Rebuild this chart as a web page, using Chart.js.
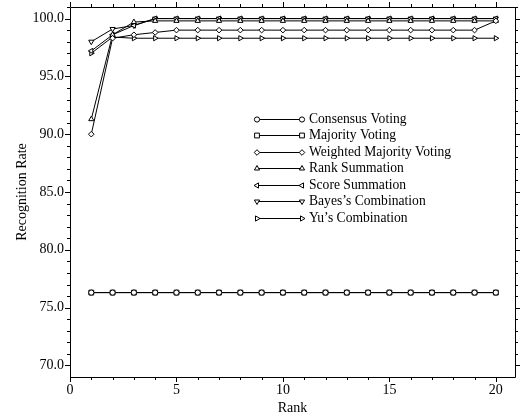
<!DOCTYPE html>
<html>
<head>
<meta charset="utf-8">
<script src="https://cdn.jsdelivr.net/npm/chart.js@4/dist/chart.umd.min.js"></script>
<style>
  html, body { margin: 0; padding: 0; background: #fff; }
  #wrap { width: 520px; height: 419px; }
</style>
</head>
<body>
<div id="wrap"><canvas id="myChart" width="520" height="419"></canvas></div>
<script>
// data
const ranks = [1, 2, 3, 4, 5, 6, 7, 8, 9, 10, 11, 12, 13, 14, 15, 16, 17, 18, 19, 20];
const consensusVoting = [76.3, 76.3, 76.3, 76.3, 76.3, 76.3, 76.3, 76.3, 76.3, 76.3, 76.3, 76.3, 76.3, 76.3, 76.3, 76.3, 76.3, 76.3, 76.3, 76.3];
const majorityVoting = [76.3, 76.3, 76.3, 76.3, 76.3, 76.3, 76.3, 76.3, 76.3, 76.3, 76.3, 76.3, 76.3, 76.3, 76.3, 76.3, 76.3, 76.3, 76.3, 76.3];
const weightedMajorityVoting = [90.0, 98.3, 98.6, 98.8, 99.0, 99.0, 99.0, 99.0, 99.0, 99.0, 99.0, 99.0, 99.0, 99.0, 99.0, 99.0, 99.0, 99.0, 99.0, 99.8];
const rankSummation = [91.3, 98.6, 99.7, 99.8, 99.8, 99.8, 99.8, 99.8, 99.8, 99.8, 99.8, 99.8, 99.8, 99.8, 99.8, 99.8, 99.8, 99.8, 99.8, 99.8];
const scoreSummation = [97.2, 98.6, 99.4, 100.0, 100.0, 100.0, 100.0, 100.0, 100.0, 100.0, 100.0, 100.0, 100.0, 100.0, 100.0, 100.0, 100.0, 100.0, 100.0, 100.0];
const bayesCombination = [98.0, 99.1, 99.4, 100.0, 100.0, 100.0, 100.0, 100.0, 100.0, 100.0, 100.0, 100.0, 100.0, 100.0, 100.0, 100.0, 100.0, 100.0, 100.0, 100.0];
const yuCombination = [97.0, 98.4, 98.3, 98.3, 98.3, 98.3, 98.3, 98.3, 98.3, 98.3, 98.3, 98.3, 98.3, 98.3, 98.3, 98.3, 98.3, 98.3, 98.3, 98.3];
const seriesNames = ['Consensus Voting', 'Majority Voting', 'Weighted Majority Voting', 'Rank Summation', 'Score Summation', "Bayes\u2019s Combination", "Yu\u2019s Combination"];
const xTicks = [0, 5, 10, 15, 20];
const yTicks = [70, 75, 80, 85, 90, 95, 100];

const FONT = "'Liberation Serif', serif";

const series = [consensusVoting, majorityVoting, weightedMajorityVoting, rankSummation, scoreSummation, bayesCombination, yuCombination];
const markers = [
    {style: 'circle', rot: 0, r: 2.6},
    {style: 'rect', rot: 0, r: 3.4},
    {style: 'rectRot', rot: 0, r: 2.8},
    {style: 'triangle', rot: 0, r: 3},
    {style: 'triangle', rot: 270, r: 3},
    {style: 'triangle', rot: 180, r: 3},
    {style: 'triangle', rot: 90, r: 3}
];

const datasets = series.map((vals, i) => ({
    label: seriesNames[i],
    data: ranks.map((r, j) => ({x: r, y: vals[j]})),
    borderColor: '#000',
    borderWidth: 1,
    backgroundColor: '#fff',
    pointStyle: markers[i].style,
    rotation: markers[i].rot,
    pointRadius: markers[i].r,
    pointBorderWidth: 1,
    pointBackgroundColor: '#fff',
    pointBorderColor: '#000',
    tension: 0,
    fill: false
}));

// frame plus outward tick marks on all four sides
const framePlugin = {
    id: 'frame',
    afterDraw: (chart) => {
        const {ctx, chartArea: a, scales: {x, y}} = chart;
        ctx.save();
        ctx.strokeStyle = '#000';
        ctx.lineWidth = 1;
        ctx.beginPath();
        ctx.rect(Math.round(a.left) + 0.5, Math.round(a.top) + 0.5, Math.round(a.right - a.left), Math.round(a.bottom - a.top));
        ctx.stroke();
        ctx.beginPath();
        for (let v = 0; v <= 20; v++) {
            const px = Math.round(x.getPixelForValue(v)) + 0.5;
            const len = v % 5 === 0 ? 5 : 3;
            ctx.moveTo(px, a.bottom); ctx.lineTo(px, a.bottom + len);
            ctx.moveTo(px, a.top); ctx.lineTo(px, a.top - len);
        }
        for (let v = 70; v <= 101; v++) {
            const py = Math.round(y.getPixelForValue(v)) + 0.5;
            const len = v % 5 === 0 ? 5 : 3;
            ctx.moveTo(a.left, py); ctx.lineTo(a.left - len, py);
            ctx.moveTo(a.right, py); ctx.lineTo(a.right + len, py);
        }
        ctx.stroke();
        ctx.restore();
    }
};

// legend drawn inside the plot, like the original figure
const insideLegend = {
    id: 'insideLegend',
    afterDraw: (chart) => {
        const {ctx} = chart;
        const x0 = 257, x1 = 302, tx = 309, top = 118.5, step = 16.5;
        ctx.save();
        chart.data.datasets.forEach((ds, i) => {
            const yy = Math.round(top + i * step) + 0.5;
            ctx.strokeStyle = '#000';
            ctx.lineWidth = 1;
            ctx.beginPath();
            ctx.moveTo(x0, yy);
            ctx.lineTo(x1, yy);
            ctx.stroke();
            ctx.fillStyle = '#fff';
            const opts = {pointStyle: ds.pointStyle, rotation: ds.rotation, radius: ds.pointRadius, borderWidth: 1};
            Chart.helpers.drawPoint(ctx, opts, x0, yy);
            Chart.helpers.drawPoint(ctx, opts, x1, yy);
            ctx.fillStyle = '#000';
            ctx.font = '13.6px ' + FONT;
            ctx.textBaseline = 'middle';
            ctx.textAlign = 'left';
            ctx.fillText(ds.label, tx, yy);
        });
        ctx.restore();
    }
};

const config = {
    type: 'line',
    data: {datasets: datasets},
    options: {
        responsive: false,
        animation: false,
        devicePixelRatio: 1,
        layout: {padding: {top: 7, right: 2, left: 0, bottom: 0}},
        plugins: {
            legend: {display: false},
            tooltip: {enabled: false}
        },
        scales: {
            x: {
                type: 'linear',
                min: 0,
                max: 20.9,
                afterBuildTicks: (s) => { s.ticks = xTicks.map(v => ({value: v})); },
                afterFit: (s) => { s.height = 42; s.paddingLeft = 0; s.paddingRight = 0; },
                grid: {display: false, drawTicks: false},
                border: {display: false},
                ticks: {
                    color: '#000',
                    padding: 5,
                    maxRotation: 0,
                    font: {family: FONT, size: 14},
                    callback: (v) => String(v)
                },
                title: {
                    display: true,
                    text: 'Rank',
                    color: '#000',
                    padding: {top: 0, bottom: 2},
                    font: {family: FONT, size: 14}
                }
            },
            y: {
                type: 'linear',
                min: 69,
                max: 101,
                afterBuildTicks: (s) => { s.ticks = yTicks.map(v => ({value: v})); },
                afterFit: (s) => { s.width = 70; s.paddingTop = 0; s.paddingBottom = 0; },
                grid: {display: false, drawTicks: false},
                border: {display: false},
                ticks: {
                    color: '#000',
                    padding: 6,
                    font: {family: FONT, size: 14},
                    callback: (v) => Number(v).toFixed(1)
                },
                title: {
                    display: true,
                    text: 'Recognition Rate',
                    color: '#000',
                    padding: {top: 14, bottom: 0},
                    font: {family: FONT, size: 14}
                }
            }
        }
    },
    plugins: [framePlugin, insideLegend]
};

const myChart = new Chart(document.getElementById('myChart'), config);
</script>
</body>
</html>
